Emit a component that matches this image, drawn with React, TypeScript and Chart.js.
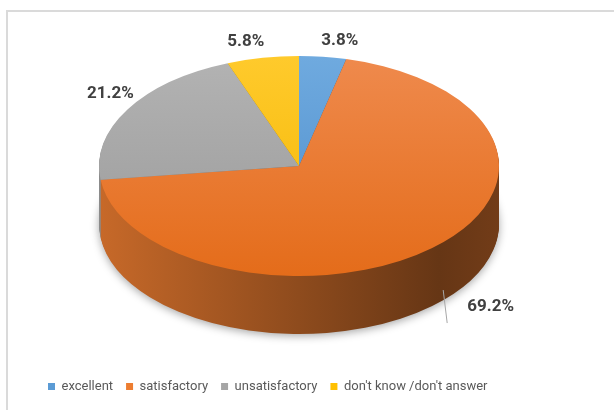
import { useEffect, useRef } from "react";
import { Chart, registerables } from "chart.js";

Chart.register(...registerables);

const categories = ["excellent", "satisfactory", "unsatisfactory", "don't know /don't answer"];
const values = [3.8, 69.2, 21.2, 5.8];
const baseColors = ["#5B9BD5", "#ED7D31", "#A5A5A5", "#FFC000"];
const topLight = ["#6FAADF", "#EF8A4D", "#B3B3B3", "#FFCA2C"];
const topDark = ["#4C8CCA", "#E46C1A", "#999999", "#F3B600"];

const TILT = 0.55;
const DEPTH = 57;
const FONT = "Roboto, 'Liberation Sans', sans-serif";

function shade(hex: string, f: number): string {
  const n = parseInt(hex.slice(1), 16);
  const r = Math.round(((n >> 16) & 255) * f);
  const g = Math.round(((n >> 8) & 255) * f);
  const b = Math.round((n & 255) * f);
  return `rgb(${r},${g},${b})`;
}

const pie3d = {
  id: "pie3d",
  beforeDatasetsDraw(chart: any) {
    const ctx: CanvasRenderingContext2D = chart.ctx;
    const arcs = chart.getDatasetMeta(0).data as any[];
    if (!arcs.length) return false;
    const cx = arcs[0].x;
    const cy = arcs[0].y;
    const R = arcs[0].outerRadius;
    const project = (off: number) => {
      ctx.translate(0, off);
      ctx.translate(cx, cy);
      ctx.scale(1, TILT);
      ctx.translate(-cx, -cy);
    };
    const drawArc = (arc: any, fill: any) => {
      const p = Object.create(arc);
      p.options = { ...arc.options, backgroundColor: fill, borderWidth: 0 };
      p.draw(ctx);
    };
    const sideFills = arcs.map((_, i) => {
      const g = ctx.createLinearGradient(cx - R, 0, cx + R, 0);
      g.addColorStop(0, shade(baseColors[i], 0.84));
      g.addColorStop(0.5, shade(baseColors[i], 0.6));
      g.addColorStop(0.85, shade(baseColors[i], 0.43));
      g.addColorStop(1, shade(baseColors[i], 0.48));
      return g;
    });
    for (let off = DEPTH + 1; off >= 1; off--) {
      ctx.save();
      if (off === DEPTH + 1) {
        ctx.shadowColor = "rgba(0,0,0,0.35)";
        ctx.shadowBlur = 9;
        ctx.shadowOffsetY = 2;
      }
      project(off);
      arcs.forEach((a, i) => drawArc(a, sideFills[i]));
      ctx.restore();
    }
    ctx.save();
    project(0);
    arcs.forEach((a, i) => {
      const g = ctx.createLinearGradient(0, cy - R, 0, cy + R);
      g.addColorStop(0, topLight[i]);
      g.addColorStop(1, topDark[i]);
      drawArc(a, g);
    });
    ctx.restore();
    return false;
  },
  afterDraw(chart: any) {
    const ctx: CanvasRenderingContext2D = chart.ctx;
    const arcs = chart.getDatasetMeta(0).data as any[];
    if (!arcs.length) return;
    const cx = arcs[0].x;
    const cy = arcs[0].y;
    const R = arcs[0].outerRadius;
    ctx.save();
    ctx.font = `bold 17px ${FONT}`;
    ctx.fillStyle = "#404040";
    ctx.textBaseline = "middle";
    arcs.forEach((a, i) => {
      const mid = (a.startAngle + a.endAngle) / 2;
      const c = Math.cos(mid);
      const s = Math.sin(mid);
      const text = `${values[i].toFixed(1)}%`;
      const ex = cx + R * c;
      const ey = cy + TILT * R * s;
      if (s > 0.3) {
        const y0 = ey + DEPTH;
        ctx.strokeStyle = "#A6A6A6";
        ctx.lineWidth = 1;
        ctx.beginPath();
        ctx.moveTo(ex + 11, y0 - 15);
        ctx.lineTo(ex + 15, y0 + 18);
        ctx.stroke();
        ctx.textAlign = "left";
        ctx.fillText(text, ex + 35, y0 + 2);
      } else {
        ctx.textAlign = "center";
        ctx.fillText(text, ex + Math.sign(c) * 17, ey - 16);
      }
    });
    ctx.restore();
  },
};

export default function App() {
  const ref = useRef<HTMLCanvasElement>(null);
  useEffect(() => {
    if (!ref.current) return;
    const chart = new Chart(ref.current, {
      type: "pie",
      data: {
        labels: categories,
        datasets: [
          {
            data: values,
            backgroundColor: baseColors,
            borderWidth: 0,
            radius: 200,
            clip: false,
          } as any,
        ],
      },
      options: {
        animation: false,
        responsive: true,
        maintainAspectRatio: false,
        layout: { padding: { left: 35, right: 51, top: 0, bottom: 7 } },
        plugins: {
          tooltip: { enabled: false },
          legend: {
            position: "bottom",
            align: "start",
            title: { display: true, text: "", font: { size: 10, lineHeight: 1 }, padding: { top: 25, bottom: 0 } },
            labels: {
              boxWidth: 7,
              boxHeight: 7,
              padding: 13,
              color: "#595959",
              font: { family: FONT, size: 13 },
              generateLabels: () =>
                categories.map((c, i) => ({
                  text: c,
                  fillStyle: baseColors[i],
                  strokeStyle: baseColors[i],
                  lineWidth: 0,
                  hidden: false,
                  index: i,
                  fontColor: "#595959",
                })),
            },
          },
        },
      } as any,
      plugins: [pie3d as any],
    });
    return () => chart.destroy();
  }, []);
  return (
    <div style={{ position: "absolute", left: 0, top: 0, width: 614, height: 410, overflow: "hidden", background: "#fff" }}>
      <div
        style={{
          position: "absolute",
          left: 6,
          top: 10,
          width: 700,
          height: 500,
          borderTop: "2px solid #DADADA",
          borderLeft: "2px solid #DADADA",
        }}
      />
      <div style={{ position: "absolute", left: 0, top: 0, width: 614, height: 410 }}>
        <canvas ref={ref} />
      </div>
    </div>
  );
}
